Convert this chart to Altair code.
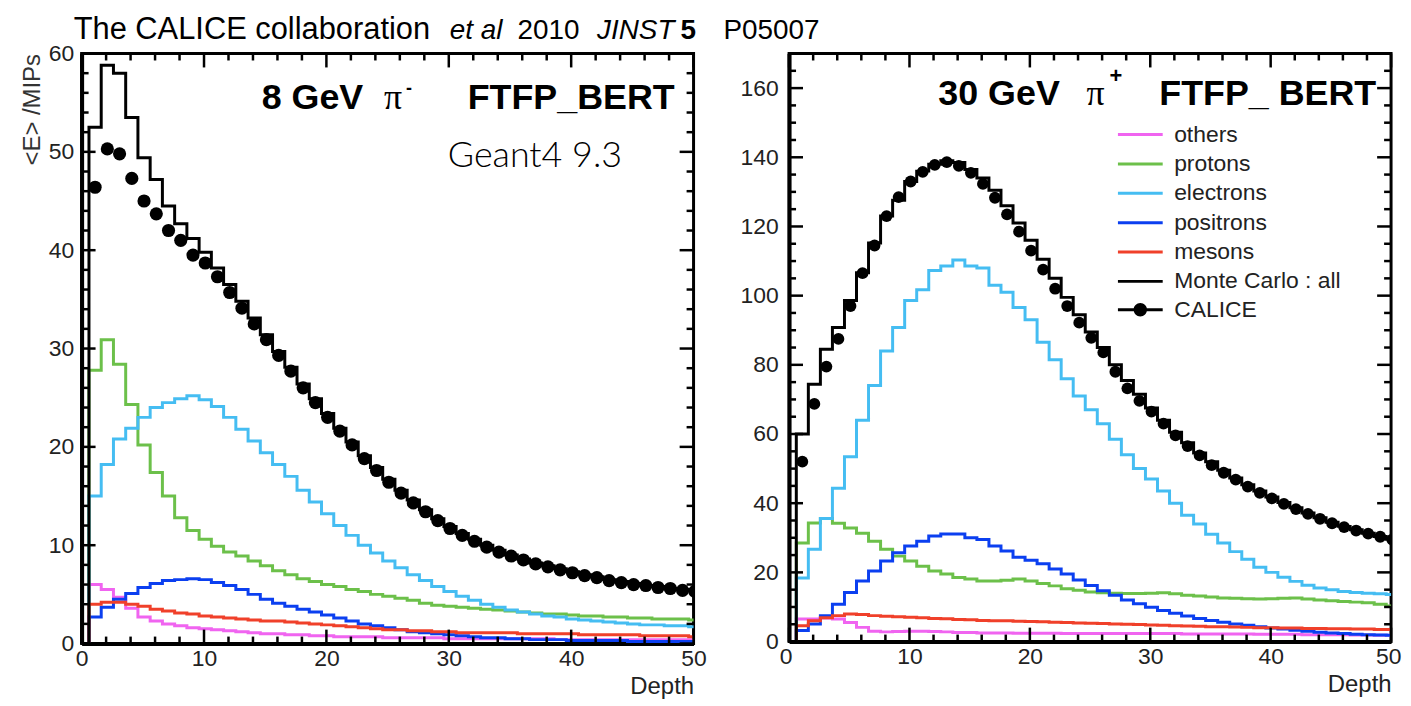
import altair as alt
import pandas as pd

# ---------------- data ----------------
LAYERS = list(range(1, 51))
SERIES = ["others", "protons", "electrons", "positrons", "mesons", "Monte Carlo : all"]
COLORS = ["#f064f0", "#6cc04a", "#45bdf2", "#0b3ff0", "#f0402a", "#000000"]
COLOR_SERIES = SERIES[:5]

# 8 GeV pi- (left panel)
L_OTHERS = [6.0, 5.5, 4.7, 3.6, 2.7, 2.3, 2.0, 1.8, 1.6, 1.5, 1.4, 1.3, 1.2, 1.1, 1.0, 1.0, 0.9, 0.9, 0.8, 0.8,
            0.7, 0.7, 0.7, 0.7, 0.6, 0.6, 0.6, 0.6, 0.6, 0.5, 0.5, 0.5, 0.5, 0.5, 0.5, 0.5, 0.5, 0.5, 0.4, 0.4,
            0.4, 0.4, 0.4, 0.4, 0.4, 0.4, 0.4, 0.4, 0.4, 0.4]
L_PROTONS = [27.8, 30.9, 28.4, 24.3, 20.2, 17.4, 15.0, 12.8, 11.5, 10.6, 9.9, 9.3, 8.9, 8.4, 7.9, 7.4, 7.0, 6.6,
             6.3, 6.0, 5.8, 5.5, 5.3, 5.0, 4.8, 4.6, 4.4, 4.1, 3.9, 3.8, 3.7, 3.6, 3.5, 3.4, 3.3, 3.2, 3.1, 3.0,
             3.0, 2.9, 2.8, 2.8, 2.7, 2.7, 2.6, 2.6, 2.5, 2.5, 2.5, 2.4]
L_ELECTRONS = [15.0, 18.2, 20.8, 21.9, 23.0, 24.0, 24.5, 24.9, 25.2, 24.8, 24.1, 23.0, 21.8, 20.6, 19.4, 18.2,
               17.0, 15.6, 14.4, 13.2, 12.0, 11.0, 10.0, 9.2, 8.4, 7.7, 7.0, 6.4, 5.8, 5.3, 4.8, 4.4, 4.0, 3.7,
               3.4, 3.2, 3.0, 2.8, 2.7, 2.5, 2.4, 2.3, 2.2, 2.1, 2.0, 1.9, 1.9, 1.8, 1.8, 1.7]
L_POSITRONS = [2.7, 3.7, 4.5, 5.1, 5.7, 6.1, 6.4, 6.5, 6.6, 6.5, 6.2, 5.9, 5.5, 5.0, 4.5, 4.1, 3.8, 3.5, 3.2, 2.9,
               2.6, 2.3, 2.0, 1.8, 1.6, 1.4, 1.2, 1.1, 1.0, 0.9, 0.8, 0.7, 0.6, 0.6, 0.5, 0.5, 0.4, 0.4, 0.4, 0.3,
               0.3, 0.3, 0.3, 0.3, 0.2, 0.2, 0.2, 0.2, 0.2, 0.2]
L_MESONS = [4.0, 4.2, 4.2, 4.0, 3.8, 3.5, 3.3, 3.1, 3.0, 2.8, 2.7, 2.6, 2.5, 2.4, 2.3, 2.3, 2.2, 2.1, 2.0, 1.9,
            1.8, 1.7, 1.6, 1.5, 1.4, 1.4, 1.3, 1.3, 1.2, 1.2, 1.1, 1.1, 1.1, 1.1, 1.1, 1.0, 1.0, 1.0, 1.0, 1.0,
            0.9, 0.9, 0.9, 0.9, 0.9, 0.8, 0.8, 0.8, 0.8, 0.7]
L_MC_ALL = [52.5, 58.8, 58.0, 53.5, 49.4, 47.2, 44.5, 42.7, 41.2, 39.8, 38.2, 36.5, 34.8, 33.1, 31.4, 29.7, 28.1,
            26.4, 24.9, 23.4, 21.9, 20.5, 19.1, 17.9, 16.7, 15.6, 14.6, 13.6, 12.7, 11.9, 11.2, 10.6, 10.0, 9.5,
            9.0, 8.6, 8.2, 7.9, 7.6, 7.3, 7.0, 6.8, 6.5, 6.3, 6.1, 5.9, 5.8, 5.6, 5.5, 5.4]
L_CALICE = [46.4, 50.3, 49.8, 47.3, 45.0, 43.7, 42.0, 41.0, 39.5, 38.7, 37.3, 35.7, 34.1, 32.5, 30.9, 29.3, 27.7,
            26.0, 24.5, 23.0, 21.6, 20.2, 18.8, 17.6, 16.4, 15.3, 14.3, 13.4, 12.5, 11.7, 11.0, 10.4, 9.8, 9.3,
            8.9, 8.5, 8.1, 7.8, 7.5, 7.2, 6.9, 6.7, 6.4, 6.2, 6.0, 5.9, 5.7, 5.6, 5.4, 5.3]

# 30 GeV pi+ (right panel)
R_OTHERS = [6.5, 6.5, 6.8, 6.5, 5.5, 4.1, 3.0, 2.8, 2.9, 3.0, 3.0, 2.9, 2.8, 2.6, 2.6, 2.5, 2.5, 2.5, 2.4, 2.4,
            2.4, 2.4, 2.3, 2.3, 2.3, 2.3, 2.3, 2.3, 2.3, 2.3, 2.3, 2.3, 2.2, 2.2, 2.2, 2.2, 2.2, 2.2, 2.1, 2.1,
            2.1, 2.1, 2.0, 2.0, 2.0, 2.0, 1.9, 1.9, 1.8, 1.8]
R_PROTONS = [28.5, 34.3, 35.6, 34.2, 32.8, 31.3, 29.0, 26.7, 24.7, 23.3, 21.8, 20.4, 19.5, 18.5, 18.1, 17.5, 17.5,
             17.7, 18.1, 17.5, 16.8, 16.1, 15.3, 14.8, 14.3, 14.1, 14.0, 13.9, 13.9, 14.0, 14.1, 13.8, 13.4, 13.2,
             12.9, 12.6, 12.5, 12.4, 12.3, 12.4, 12.5, 12.6, 12.3, 12.0, 11.8, 11.6, 11.4, 11.2, 10.8, 10.3]
R_ELECTRONS = [18.4, 26.7, 35.6, 44.3, 53.4, 64.0, 74.0, 84.0, 90.8, 98.6, 101.7, 107.3, 108.6, 110.3, 108.6,
               108.0, 103.0, 101.0, 96.6, 93.0, 86.5, 81.5, 76.0, 71.0, 67.0, 63.0, 58.5, 54.0, 50.0, 47.0, 43.5,
               40.0, 36.5, 34.0, 31.0, 28.5, 26.0, 23.8, 21.5, 20.0, 18.6, 17.4, 16.3, 15.5, 15.0, 14.5, 14.2,
               14.0, 13.8, 13.6]
R_POSITRONS = [3.2, 5.1, 7.5, 10.8, 14.2, 17.5, 20.4, 23.3, 25.7, 27.6, 29.0, 30.5, 31.1, 31.1, 30.0, 29.5, 27.6,
               26.2, 24.4, 23.5, 22.5, 21.0, 19.5, 17.8, 16.2, 14.7, 13.4, 12.0, 10.9, 9.9, 9.0, 8.2, 7.4, 6.7,
               6.1, 5.6, 5.1, 4.7, 4.3, 3.9, 3.6, 3.3, 3.0, 2.7, 2.5, 2.3, 2.1, 2.0, 1.9, 1.8]
R_MESONS = [4.6, 6.0, 6.9, 7.5, 8.0, 7.8, 7.5, 7.3, 7.2, 7.0, 6.9, 6.7, 6.6, 6.4, 6.3, 6.1, 6.0, 6.0, 5.9, 5.8,
            5.7, 5.6, 5.5, 5.4, 5.3, 5.2, 5.1, 5.0, 4.9, 4.8, 4.7, 4.6, 4.5, 4.4, 4.3, 4.3, 4.2, 4.1, 4.0, 4.0,
            3.9, 3.9, 3.8, 3.8, 3.7, 3.7, 3.6, 3.6, 3.5, 3.5]
R_MC_ALL = [60.0, 74.4, 84.5, 90.8, 98.6, 106.6, 115.2, 123.0, 127.6, 133.0, 136.0, 138.0, 139.0, 138.5, 136.5,
            134.0, 130.5, 126.0, 121.0, 116.0, 110.5, 105.0, 99.5, 94.5, 89.5, 85.0, 80.0, 75.5, 71.5, 67.5, 64.0,
            60.5, 57.5, 54.5, 52.0, 49.5, 47.3, 45.3, 43.5, 41.8, 40.2, 38.7, 37.2, 35.8, 34.5, 33.3, 32.3, 31.3,
            30.4, 29.6]
R_CALICE = [52.0, 68.7, 79.5, 87.5, 97.0, 106.5, 114.5, 123.0, 128.5, 133.0, 135.8, 137.8, 138.6, 137.5, 135.5,
            132.3, 128.3, 123.5, 118.5, 113.0, 107.5, 102.0, 97.0, 92.2, 87.8, 83.6, 78.0, 73.2, 69.6, 66.5, 63.0,
            59.6, 56.5, 53.8, 51.0, 48.8, 46.8, 44.8, 43.0, 41.4, 39.8, 38.3, 36.9, 35.5, 34.2, 33.1, 32.1, 31.2,
            30.3, 29.5]

# axis tick positions
X_MAJOR = [0, 10, 20, 30, 40, 50]
X_MINOR = [v for v in range(0, 51, 2) if v % 10]
L_Y_MAJOR = [0, 10, 20, 30, 40, 50, 60]
L_Y_MINOR = [v for v in range(0, 61, 2) if v % 10]
R_Y_MAJOR = [0, 20, 40, 60, 80, 100, 120, 140, 160]
R_Y_MINOR = [v for v in range(0, 171, 5) if v % 20]

HEADER = ["The CALICE collaboration", "et al", "2010", "JINST", "5", "P05007"]
LEFT_TITLE = ["8 GeV", "\u03c0", "-", "FTFP_BERT"]
RIGHT_TITLE = ["30 GeV", "\u03c0", "+", "FTFP_ BERT"]
VERSION = "Geant4 9.3"
Y_TITLE = "<E> /MIPs"
X_TITLE = "Depth"

FONT = "Liberation Sans"
SERIF = "Liberation Serif"


def step_frame(names, arrays):
    rows = []
    for name, vals in zip(names, arrays):
        rows.append({"series": name, "depth": 0.0, "E": 0.0})
        for k, v in zip(LAYERS, vals):
            rows.append({"series": name, "depth": k - 0.4, "E": v})
        rows.append({"series": name, "depth": LAYERS[-1] + 0.6, "E": vals[-1]})
    return pd.DataFrame(rows)


def dot_frame(vals):
    return pd.DataFrame({"series": "CALICE", "depth": [k + 0.1 for k in LAYERS], "E": vals})


def txt(s, x, y, size, weight="normal", style="normal", font=FONT, align="left", color="black"):
    return alt.Chart(pd.DataFrame({"t": [s]})).mark_text(
        align=align, baseline="alphabetic", font=font, fontSize=size, fontWeight=weight,
        fontStyle=style, color=color
    ).encode(x=alt.value(x), y=alt.value(y), text="t:N")


def x_ticks(vals, length, H, xs):
    df = pd.DataFrame({"v": vals})
    base = alt.Chart(df).mark_rule(color="black", strokeWidth=2.5)
    bottom = base.encode(x=alt.X("v:Q", scale=xs, axis=None), y=alt.value(H), y2=alt.value(H - length))
    top = base.encode(x=alt.X("v:Q", scale=xs, axis=None), y=alt.value(0), y2=alt.value(length))
    return [bottom, top]


def y_ticks(vals, length, W, ys):
    df = pd.DataFrame({"v": vals})
    base = alt.Chart(df).mark_rule(color="black", strokeWidth=2.5)
    left = base.encode(y=alt.Y("v:Q", scale=ys, axis=None), x=alt.value(0), x2=alt.value(length))
    right = base.encode(y=alt.Y("v:Q", scale=ys, axis=None), x=alt.value(W), x2=alt.value(W - length))
    return [left, right]


LEG_LINE = "M-1,0H4"
LEG_DOT = ("M-1,-0.17H4V0.17H-1Z "
           "M2.25,0A0.75,0.75,0,1,1,0.75,0A0.75,0.75,0,1,1,2.25,0Z")


def panel(W, H, ymax, ymaj, ymin, lines_vals, mc_vals, dot_vals, dot_size,
          ytitle, ylabpad, annotations, show_legend, flush):
    xs = alt.Scale(domain=[0, 50], nice=False, zero=False)
    ys = alt.Scale(domain=[0, ymax], nice=False)

    flush_kw = dict(labelFlush=True, labelFlushOffset=10) if flush else dict(labelFlush=False)
    axA = alt.Axis(orient="bottom", values=X_MAJOR, ticks=False, domain=True, domainColor="black",
                   domainWidth=4, labelFont=FONT, labelFontSize=23, labelColor="#222",
                   labelPadding=4, grid=False, format="d", title=X_TITLE,
                   titleFont=FONT, titleFontSize=24, titleFontWeight="normal", titleColor="#222",
                   titleAnchor="end", titlePadding=4, **flush_kw)
    ykw = dict(orient="left", values=ymaj, ticks=False, domain=True, domainColor="black",
               domainWidth=4, labelFont=FONT, labelFontSize=23, labelColor="#222",
               labelPadding=ylabpad, grid=False, format="d")
    if ytitle:
        axD = alt.Axis(title=ytitle, titleFont=FONT, titleFontSize=24, titleFontWeight="normal",
                       titleColor="#333", titleAnchor="end", titlePadding=4, **ykw)
    else:
        axD = alt.Axis(title=None, **ykw)

    if show_legend:
        color_legend = alt.Legend(title=None, orient="none", legendX=328, legendY=70, padding=0,
                                  symbolType=LEG_LINE, symbolSize=324, symbolStrokeWidth=3,
                                  labelFont=FONT, labelFontSize=23, labelColor="#222",
                                  labelOffset=36, rowPadding=5.5, labelLimit=400)
        dot_legend = alt.Legend(title=None, orient="none", legendX=328, legendY=246, padding=0,
                                symbolType=LEG_DOT, symbolSize=324, symbolFillColor="black",
                                symbolStrokeColor="black", symbolStrokeWidth=0.5,
                                labelFont=FONT, labelFontSize=23, labelColor="#222",
                                labelOffset=36, labelLimit=400)
    else:
        color_legend = None
        dot_legend = None

    lines = alt.Chart(step_frame(COLOR_SERIES, lines_vals)).mark_line(
        interpolate="step-after", strokeWidth=3, clip=True
    ).encode(
        x=alt.X("depth:Q", scale=xs, axis=axA),
        y=alt.Y("E:Q", scale=ys, axis=axD),
        color=alt.Color("series:N", scale=alt.Scale(domain=SERIES, range=COLORS), legend=color_legend),
    )
    mc = alt.Chart(step_frame(["Monte Carlo : all"], [mc_vals])).mark_line(
        interpolate="step-after", strokeWidth=3, clip=True, color="black"
    ).encode(
        x=alt.X("depth:Q", scale=xs, axis=None),
        y=alt.Y("E:Q", scale=ys, axis=None),
    )
    dots = alt.Chart(dot_frame(dot_vals)).mark_circle(size=dot_size, color="black", clip=True).encode(
        x=alt.X("depth:Q", scale=xs, axis=None),
        y=alt.Y("E:Q", scale=ys, axis=None),
        opacity=alt.Opacity("series:N", scale=alt.Scale(domain=["CALICE"], range=[1]), legend=dot_legend),
    )
    ticks = (x_ticks(X_MAJOR, 14, H, xs) + x_ticks(X_MINOR, 7, H, xs)
             + y_ticks(ymaj, 14, W, ys) + y_ticks(ymin, 7, W, ys))
    return alt.layer(lines, mc, dots, *ticks, *annotations).resolve_axis(
        x="independent", y="independent"
    ).properties(width=W, height=H)


left_ann = [
    txt(HEADER[0], -8, -15, 31),
    txt(HEADER[1], 370, -15, 28, style="italic"),
    txt(HEADER[2], 438, -15, 28),
    txt(HEADER[3], 518, -15, 28, style="italic"),
    txt(HEADER[4], 602, -15, 28, weight="bold"),
    txt(HEADER[5], 645, -15, 28),
    txt(LEFT_TITLE[0], 181, 56, 36, weight="bold"),
    txt(LEFT_TITLE[1], 304, 56, 36, font=SERIF),
    txt(LEFT_TITLE[2], 326, 41, 18, weight="bold"),
    txt(LEFT_TITLE[3], 596, 56, 36, weight="bold", align="right"),
    txt(VERSION, 368, 114, 36, weight=300, font="Lato"),
]
right_ann = [
    txt(RIGHT_TITLE[0], 150, 52, 36, weight="bold"),
    txt(RIGHT_TITLE[1], 299, 52, 36, font=SERIF),
    txt(RIGHT_TITLE[2], 322, 30, 22, weight="bold"),
    txt(RIGHT_TITLE[3], 590, 52, 36, weight="bold", align="right"),
]

left = panel(615, 593, 60, L_Y_MAJOR, L_Y_MINOR,
             [L_OTHERS, L_PROTONS, L_ELECTRONS, L_POSITRONS, L_MESONS], L_MC_ALL, L_CALICE, 175,
             Y_TITLE, 8, left_ann, False, False)
right = panel(605, 591, 170, R_Y_MAJOR, R_Y_MINOR,
              [R_OTHERS, R_PROTONS, R_ELECTRONS, R_POSITRONS, R_MESONS], R_MC_ALL, R_CALICE, 140,
              None, 11, right_ann, True, True)

chart = alt.hconcat(left, right, spacing=96, bounds="flush").resolve_scale(
    x="independent", y="independent", color="independent", opacity="independent"
).resolve_legend(color="independent", opacity="independent").configure_view(
    stroke="black", strokeWidth=3
).properties(padding={"left": 10, "top": 2, "right": 0, "bottom": 0})

chart.save("out.html", embed_options={"renderer": "svg", "actions": False})
